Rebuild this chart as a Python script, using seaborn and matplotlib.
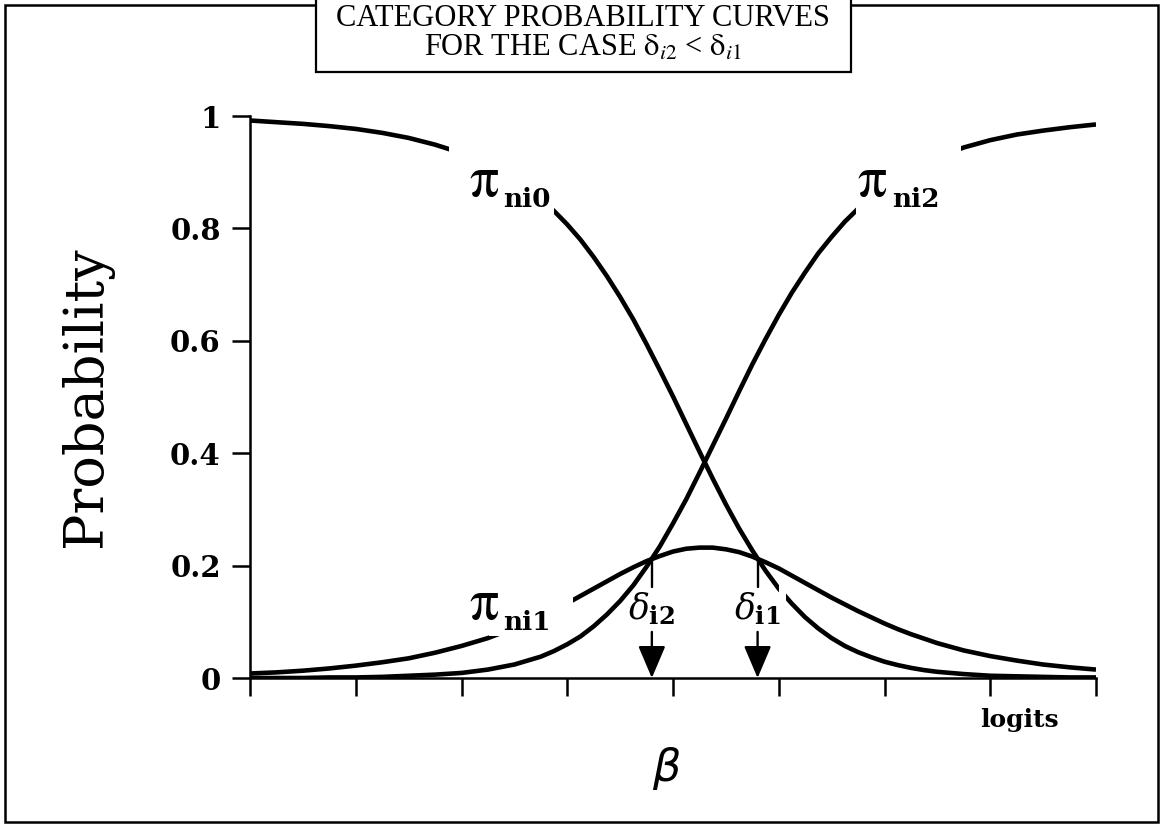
import matplotlib
matplotlib.use("Agg")
import matplotlib.pyplot as plt
import pandas as pd
import seaborn as sns
from matplotlib.patches import Rectangle

# Ability in logits and the probability of each response category
beta = [-4.0, -3.75, -3.5, -3.25, -3.0, -2.75, -2.5, -2.25, -2.0, -1.75, -1.5,
        -1.375, -1.25, -1.125, -1.0, -0.875, -0.75, -0.625, -0.5, -0.375, -0.25,
        -0.125, 0.0, 0.125, 0.25, 0.375, 0.5, 0.625, 0.75, 0.875, 1.0, 1.125,
        1.25, 1.375, 1.5, 1.625, 1.75, 1.875, 2.0, 2.125, 2.25, 2.375,
        2.5, 2.75, 3.0, 3.25, 3.5, 3.75, 4.0]
p_cat0 = [0.992, 0.989, 0.986, 0.982, 0.977, 0.970, 0.961, 0.949, 0.934, 0.914, 0.887,
          0.871, 0.852, 0.831, 0.807, 0.780, 0.749, 0.715, 0.678, 0.638, 0.594,
          0.548, 0.501, 0.452, 0.403, 0.355, 0.309, 0.266, 0.227, 0.191, 0.159, 0.132,
          0.108, 0.088, 0.071, 0.057, 0.046, 0.037, 0.029, 0.023, 0.018, 0.014,
          0.011, 0.007, 0.004, 0.003, 0.002, 0.001, 0.001]
p_cat1 = [0.008, 0.010, 0.013, 0.017, 0.022, 0.028, 0.035, 0.045, 0.057, 0.071, 0.089,
          0.099, 0.110, 0.121, 0.133, 0.146, 0.159, 0.172, 0.185, 0.197, 0.208,
          0.217, 0.225, 0.230, 0.232, 0.232, 0.229, 0.224, 0.216, 0.206, 0.195, 0.182,
          0.169, 0.156, 0.143, 0.131, 0.119, 0.108, 0.097, 0.087, 0.078, 0.070,
          0.062, 0.049, 0.039, 0.031, 0.024, 0.019, 0.015]
p_cat2 = [0.000, 0.000, 0.000, 0.001, 0.001, 0.002, 0.004, 0.006, 0.009, 0.015, 0.024,
          0.031, 0.038, 0.048, 0.060, 0.074, 0.092, 0.113, 0.137, 0.165, 0.198,
          0.234, 0.275, 0.318, 0.365, 0.413, 0.461, 0.510, 0.558, 0.603, 0.646, 0.686,
          0.722, 0.756, 0.785, 0.812, 0.835, 0.856, 0.874, 0.890, 0.904, 0.916,
          0.926, 0.944, 0.957, 0.967, 0.974, 0.980, 0.985]
categories = ["0", "1", "2"]
curve_subscripts = ["ni0", "ni1", "ni2"]

# Step thresholds (delta_i2 < delta_i1) and the probability where curves cross
thresholds = [-0.2, 0.8]
threshold_labels = [r"$\delta_{\mathbf{i2}}$", r"$\delta_{\mathbf{i1}}$"]
threshold_prob = [0.212, 0.212]

x_ticks = [-4, -3, -2, -1, 0, 1, 2, 3, 4]
y_ticks = [0, 0.2, 0.4, 0.6, 0.8, 1]
y_tick_labels = ["0", "0.2", "0.4", "0.6", "0.8", "1"]

sns.set_theme(style="ticks")
plt.rcParams["font.family"] = ["DejaVu Serif", "DejaVu Sans"]
for key in ("axes.edgecolor", "xtick.color", "ytick.color", "text.color",
            "axes.labelcolor"):
    plt.rcParams[key] = "black"

W, H = 1161, 825
fig = plt.figure(figsize=(W / 100, H / 100), dpi=100)
fig.patch.set_facecolor("white")
ax = fig.add_axes([250 / W, 1 - 678 / H, 846 / W, 562 / H])
ax.set_facecolor("white")

df = pd.DataFrame({
    "beta": beta * 3,
    "prob": p_cat0 + p_cat1 + p_cat2,
    "category": [c for c in categories for _ in beta],
})
sns.lineplot(data=df, x="beta", y="prob", hue="category",
             palette={c: "black" for c in categories}, linewidth=3.3,
             legend=False, ax=ax, zorder=2, solid_joinstyle="round",
             solid_capstyle="butt")

# White knockouts that open the curves where labels sit
for (x0, x1, y0, y1) in [(-2.12, -1.13, 0.80, 0.96),
                         (1.73, 2.72, 0.80, 0.96),
                         (-1.74, -0.95, 0.074, 0.16),
                         (1.0, 1.07, 0.13, 0.18)]:
    ax.add_patch(Rectangle((x0, y0), x1 - x0, y1 - y0, facecolor="white",
                           edgecolor="none", zorder=3))

# Curve names: a large pi with a bold subscript
label_pos = [(-1.93, 0.858), (-1.93, 0.105), (1.74, 0.858)]
for (lx, ly), sub in zip(label_pos, curve_subscripts):
    ax.text(lx, ly, r"$\mathrm{\pi}$", fontsize=42, math_fontfamily="stix",
            ha="left", va="baseline", zorder=4)
    ax.annotate(sub, xy=(lx, ly), xytext=(25, -8), textcoords="offset points",
                fontsize=19, fontweight="bold", family="DejaVu Serif",
                ha="left", va="baseline", zorder=4)

# Threshold leaders, labels and arrows down to the logit axis
for d, p, lab in zip(thresholds, threshold_prob, threshold_labels):
    ax.plot([d, d], [p, 0.162], color="black", linewidth=1.7, zorder=4)
    ax.text(d, 0.124, lab, fontsize=25, math_fontfamily="dejavuserif",
            ha="center", va="center", zorder=4)
    ax.annotate("", xy=(d, 0.0), xytext=(d, 0.082),
                arrowprops=dict(arrowstyle="-|>,head_length=20,head_width=8.5",
                                mutation_scale=1, shrinkA=0, shrinkB=0,
                                color="black", linewidth=1.7), zorder=4)

ax.set_xlim(-4, 4)
ax.set_ylim(0, 1)
ax.set_xticks(x_ticks)
ax.set_xticklabels([])
ax.set_yticks(y_ticks)
ax.set_yticklabels(y_tick_labels, fontsize=21, fontweight="bold",
                   family="DejaVu Serif")
ax.tick_params(axis="both", direction="out", length=13, width=1.8)
ax.tick_params(axis="y", pad=8)
ax.set_xlabel("")
ax.set_ylabel("")
sns.despine(ax=ax)
for side in ("left", "bottom"):
    ax.spines[side].set_linewidth(1.8)
    ax.spines[side].set_color("black")

ax.text(3.28, -0.075, "logits", fontsize=18, fontweight="bold",
        family="DejaVu Serif", ha="center", va="center", clip_on=False)

fig.text(87 / W, 1 - 397 / H, "Probability", rotation=90, fontsize=39,
         family="DejaVu Serif", ha="center", va="center")
fig.text(667 / W, 1 - 768 / H, r"$\beta$", fontsize=32,
         math_fontfamily="dejavusans", ha="center", va="center")

# Page frame and the boxed heading
fig.add_artist(Rectangle((5 / W, 3 / H), 1153 / W, 817 / H, transform=fig.transFigure,
                         fill=False, edgecolor="black", linewidth=1.8, zorder=1))
fig.add_artist(Rectangle((316 / W, 1 - 72 / H), 535 / W, 80 / H,
                         transform=fig.transFigure, facecolor="white",
                         edgecolor="black", linewidth=1.6, zorder=5,
                         clip_on=False))
fig.text(583 / W, 1 - 19 / H, "CATEGORY PROBABILITY CURVES", fontsize=22,
         family="Liberation Serif", ha="center", va="center", zorder=6)
fig.text(583 / W, 1 - 48 / H, r"FOR THE CASE $\mathrm{\delta}_{i2}$ < $\mathrm{\delta}_{i1}$",
         fontsize=22, family="Liberation Serif", math_fontfamily="stix",
         ha="center", va="center", zorder=6)

fig.savefig("out.png", dpi=100, facecolor="white")
